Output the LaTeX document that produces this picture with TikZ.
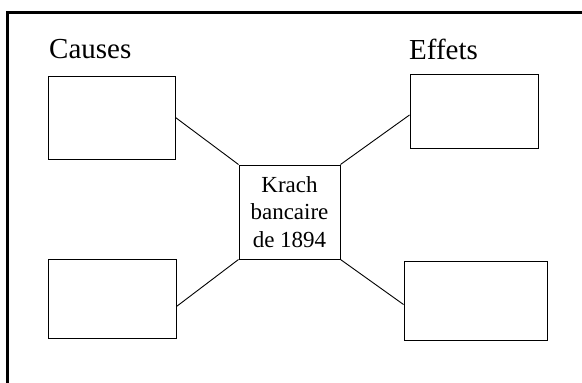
\documentclass[tikz,border=0pt]{standalone}
\usepackage{fontspec}
\setmainfont{Liberation Serif}
\usetikzlibrary{calc}
\begin{document}
\begin{tikzpicture}[x=1pt,y=-1pt,
  emptybox/.style={draw=black, line width=1pt, rectangle, inner sep=0pt},
  link/.style={draw=black, line width=0.9pt},
  heading/.style={font=\fontsize{29}{34}\selectfont, inner sep=0pt, anchor=base west}]
  \useasboundingbox (0,0) rectangle (582,383);
  % open frame: top and left sides only
  \draw[line width=3pt] (7.5,383) -- (7.5,12.5) -- (582,12.5);
  % headings
  \node[heading] (causes) at (49,58) {Causes};
  \node[heading] (effets) at (409,59) {Effets};
  % empty boxes
  \node[emptybox, minimum width=127pt, minimum height=83pt] (tl) at (111.5,117.5) {};
  \node[emptybox, minimum width=128pt, minimum height=74pt] (tr) at (474,111) {};
  \node[emptybox, minimum width=128pt, minimum height=79pt] (bl) at (112,298.5) {};
  \node[emptybox, minimum width=143pt, minimum height=79pt] (br) at (475.5,300.5) {};
  % central topic
  \node[emptybox, minimum width=101pt, minimum height=94pt, align=center,
        font=\fontsize{23}{27.5}\selectfont] (c) at (289.5,212)
        {Krach\\bancaire\\de 1894};
  % connectors
  \draw[link] (tl.east) -- (c.north west);
  \draw[link] (c.north east) -- ($(tr.west)+(0,4)$);
  \draw[link] (c.south west) -- ($(bl.east)+(0,8)$);
  \draw[link] (c.south east) -- ($(br.west)+(0,4)$);
\end{tikzpicture}
\end{document}
